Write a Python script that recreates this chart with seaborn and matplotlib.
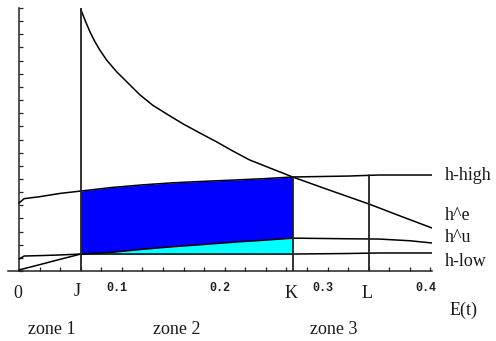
import numpy as np
import pandas as pd
import matplotlib
matplotlib.use("Agg")
import matplotlib.pyplot as plt
import seaborn as sns
from matplotlib.transforms import ScaledTranslation

# ---------------- data ----------------
x_shared = [0, 0.005, 0.02, 0.04, 0.06, 0.09, 0.12, 0.15, 0.18, 0.21, 0.24, 0.266, 0.32, 0.35, 0.38, 0.4015]
h_high = [5.17, 5.5, 5.65, 5.9, 6.08, 6.35, 6.55, 6.71, 6.82, 6.92, 7.03, 7.15, 7.22, 7.3, 7.3, 7.3]
h_u = [0.08, 0.18, 0.48, 0.89, 1.29, 1.42, 1.65, 1.85, 2.02, 2.2, 2.35, 2.5, 2.45, 2.43, 2.3, 2.13]
h_low = [0.91, 1.14, 1.17, 1.22, 1.29, 1.29, 1.29, 1.29, 1.29, 1.29, 1.29, 1.29, 1.33, 1.37, 1.37, 1.37]

x_e = [0.06, 0.0641, 0.0689, 0.0738, 0.0786, 0.0851, 0.0948, 0.1046, 0.1175, 0.1301,
       0.1434, 0.1592, 0.1757, 0.1919, 0.208, 0.2243, 0.266, 0.30, 0.34, 0.37, 0.4015]
h_e = [19.9, 19.09, 18.2, 17.44, 16.8, 16.05, 15.16, 14.4, 13.4, 12.6,
       11.95, 11.2, 10.5, 9.83, 9.12, 8.44, 7.15, 6.2, 5.1, 4.2, 3.27]

J, K, L = 0.06, 0.266, 0.34
vline_x = [J, K, L]
vline_top = [20, 7.15, 7.3]

x_ticks = [0.1, 0.2, 0.3, 0.4]
x_tick_labels = ["0.1", "0.2", "0.3", "0.4"]
marker_labels = ["0", "J", "K", "L"]
zone_labels = ["zone 1", "zone 2", "zone 3"]
curve_labels = ["h-high", "h^e", "h^u", "h-low"]
axis_label = "E(t)"

# ---------------- figure ----------------
sns.set_style("white")
plt.rcParams["font.family"] = ["Liberation Serif", "DejaVu Serif"]

W, H = 496, 341
fig = plt.figure(figsize=(W / 100, H / 100), dpi=100)
left_px, right_px, bottom_px, top_px = 8.2, 432, 271, 8
ax = fig.add_axes([left_px / W, 1 - bottom_px / H,
                   (right_px - left_px) / W, (bottom_px - top_px) / H])
ax.set_xlim(-0.0105, 0.4015)
ax.set_ylim(0, 20)

df = pd.DataFrame({"x": x_shared, "h_high": h_high, "h_u": h_u, "h_low": h_low})
xs = np.array(x_shared)
zone2 = (xs >= J) & (xs <= K)
ax.fill_between(xs, h_u, h_high, where=zone2, color="#0000FF", lw=0, zorder=1)
ax.fill_between(xs, h_low, h_u, where=zone2, color="#00FFFF", lw=0, zorder=1)

lw = 1.1
for col in ["h_high", "h_u", "h_low"]:
    sns.lineplot(data=df, x="x", y=col, ax=ax, color="black", lw=lw,
                 estimator=None, sort=False, zorder=3)
sns.lineplot(x=x_e, y=h_e, ax=ax, color="black", lw=lw, estimator=None, sort=False, zorder=3)
for vx, vt in zip(vline_x, vline_top):
    sns.lineplot(x=[vx, vx], y=[0, vt], ax=ax, color="#222222", lw=1.3,
                 estimator=None, sort=False, zorder=3)

# axes styling
for s in ["top", "right"]:
    ax.spines[s].set_visible(False)
ax.spines["left"].set_position(("data", 0))
ax.spines["left"].set_bounds(0, 20)
for s in ["left", "bottom"]:
    ax.spines[s].set_color("#222222")
    ax.spines[s].set_linewidth(1.1)
ax.set_xlabel("")
ax.set_ylabel("")
ax.set_xticks(x_ticks)
ax.set_xticks(np.arange(0.02, 0.41, 0.02), minor=True)
ax.set_xticklabels(x_tick_labels, family="Liberation Mono", fontsize=8.5,
                   fontweight="bold", color="#222222")
ax.set_yticks(range(0, 21))
ax.set_yticklabels([])
ax.tick_params(axis="both", which="both", direction="in", length=3, width=0.9,
               color="#222222", bottom=True, left=True, top=False, right=False)
ax.tick_params(axis="x", which="major", pad=8)
for lab in ax.get_xticklabels():
    lab.set_transform(lab.get_transform() + ScaledTranslation(-4.5 / 100, 0, fig.dpi_scale_trans))

def ftext(px, py, s, **kw):
    fig.text(px / W, 1 - py / H, s, **kw)

tc = "#1a1a1a"
for s, (px, py) in zip(marker_labels, [(18, 293), (77, 292), (291, 293), (367, 293)]):
    ftext(px, py, s, ha="center", va="center", fontsize=13, color=tc)
for s, (px, py) in zip(zone_labels, [(52, 330), (177, 330), (334, 330)]):
    ftext(px, py, s, ha="center", va="center", fontsize=13, color=tc)
for s, py in zip(curve_labels, [175, 215, 238, 262]):
    ftext(445, py, s, ha="left", va="center", fontsize=13, color=tc)
ftext(464, 310, axis_label, ha="center", va="center", fontsize=13, color=tc)

fig.savefig("out.png", dpi=100)
